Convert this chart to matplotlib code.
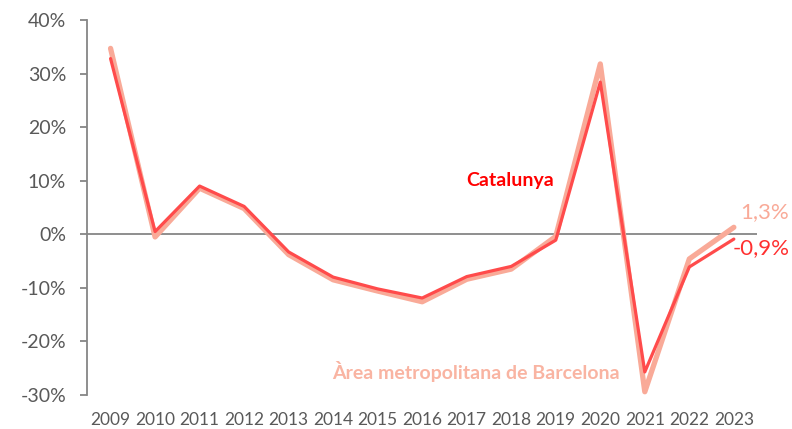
import numpy as np
import matplotlib.pyplot as plt
from matplotlib.ticker import FuncFormatter

# %% Dades
anys = list(range(2009, 2024))
catalunya = [32.8, 0.5, 9.0, 5.2, -3.3, -8.0, -10.2, -11.9, -7.9, -6.0, -1.1, 28.4, -25.7, -6.1, -0.9]
amb = [34.7, -0.5, 8.6, 4.8, -3.8, -8.5, -10.6, -12.6, -8.4, -6.5, -0.4, 31.8, -29.4, -4.6, 1.3]
y_ticks = [-30, -20, -10, 0, 10, 20, 30, 40]

color_cat = '#FF4B4B'
color_amb = '#F9AA98'
gris = '#868686'
text_gris = '#595959'

plt.rcParams['font.family'] = ['Lato', 'DejaVu Sans']

fig = plt.figure(figsize=(7.92, 4.29), dpi=100)
ax = fig.add_axes([0.1098, 0.0793, 0.846, 0.8741])

# %% Línies
ax.axhline(0, color=gris, linewidth=1.3, zorder=1)
ax.plot(anys, amb, color=color_amb, linewidth=3.8, solid_capstyle='round', zorder=2)
ax.plot(anys, catalunya, color=color_cat, linewidth=2.3, solid_capstyle='round', zorder=3)

# %% Eixos
ax.set_xlim(2008.47, 2023.52)
ax.set_ylim(-30, 40)
ax.set_yticks(y_ticks)
ax.yaxis.set_major_formatter(FuncFormatter(lambda v, p: f'{v:.0f}%'))
ax.set_xticks(anys)
ax.tick_params(axis='y', colors=gris, labelcolor=text_gris, labelsize=14,
               length=5, width=1.3, pad=10)
ax.tick_params(axis='x', length=0, labelcolor=text_gris, labelsize=12.5, pad=12)
for s in ['top', 'right', 'bottom']:
    ax.spines[s].set_visible(False)
ax.spines['left'].set_color(gris)
ax.spines['left'].set_linewidth(1.3)

# %% Etiquetes
ax.text(2017.97, 10.0, 'Catalunya', color='#FF0000', fontsize=14, fontweight='bold',
        ha='center', va='center')
ax.text(2017.21, -25.6, 'Àrea metropolitana de Barcelona', color='#F9B4A2', fontsize=14,
        fontweight='bold', ha='center', va='center')
ax.text(2023.70, 4.1, '1,3%', color=color_amb, fontsize=16, ha='center', va='center',
        clip_on=False)
ax.text(2023.61, -2.6, '-0,9%', color='#FF3030', fontsize=16, ha='center', va='center',
        clip_on=False)

plt.savefig('out.png', dpi=100)
